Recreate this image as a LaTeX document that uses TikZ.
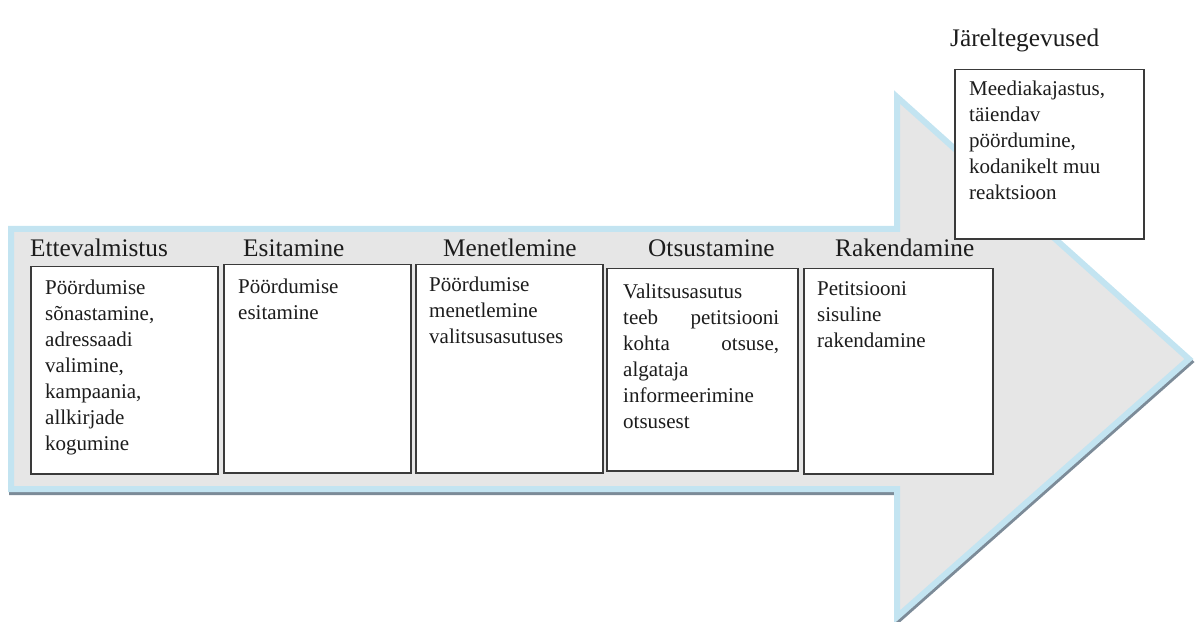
\documentclass[tikz,border=0pt]{standalone}
\usepackage{fontspec}
\setmainfont{Liberation Serif}
\definecolor{arrowfill}{HTML}{E6E6E6}
\definecolor{arrowedge}{HTML}{C3E4F1}
\definecolor{arrowshadow}{HTML}{7C8B98}
\definecolor{boxline}{HTML}{3A3A3A}
\definecolor{txt}{HTML}{1C1C1C}
\tikzset{
  headtext/.style={font=\fontsize{25.3bp}{30bp}\selectfont, anchor=base west, inner sep=0pt, text=txt},
  bodytext/.style={font=\fontsize{21bp}{26bp}\selectfont, anchor=north west, inner sep=0pt, align=left, text=txt},
  pbox/.style={draw=boxline, line width=1.5bp, fill=white, anchor=north west, inner sep=0pt},
}
\begin{document}
\begin{tikzpicture}[x=1bp,y=-1bp]
\useasboundingbox (0,0) rectangle (1198,622);
% arrow shadow
\fill[arrowshadow, draw=arrowshadow, line width=6bp, line join=miter, shift={(1,3)}]
  (11,229) -- (897,229) -- (897,97) -- (1189,359) -- (897,617) -- (897,489) -- (11,489) -- cycle;
% arrow body
\filldraw[fill=arrowfill, draw=arrowedge, line width=6bp, line join=miter]
  (11,229) -- (897,229) -- (897,97) -- (1189,359) -- (897,617) -- (897,489) -- (11,489) -- cycle;

% headings
\node[headtext] (h1) at (30,257) {Ettevalmistus};
\node[headtext] (h2) at (243,257) {Esitamine};
\node[headtext] (h3) at (443,257) {Menetlemine};
\node[headtext] (h4) at (648,257) {Otsustamine};
\node[headtext] (h5) at (835,257) {Rakendamine};
\node[headtext] (h6) at (950,47) {Järeltegevused};

% boxes
\node[pbox, minimum width=187bp, minimum height=207bp] (b1) at (30,266) {};
\node[pbox, minimum width=187bp, minimum height=208bp] (b2) at (223,264) {};
\node[pbox, minimum width=187bp, minimum height=208bp] (b3) at (415,264) {};
\node[pbox, minimum width=191bp, minimum height=202bp] (b4) at (606,268) {};
\node[pbox, minimum width=189bp, minimum height=205bp] (b5) at (803,268) {};
\node[pbox, minimum width=189bp, minimum height=169bp] (b6) at (954,69) {};

% box texts
\node[bodytext] (t1) at (45,280) {Pöördumise\\sõnastamine,\\adressaadi\\valimine,\\kampaania,\\allkirjade\\kogumine};
\node[bodytext] (t2) at (238,279) {Pöördumise\\esitamine};
\node[bodytext] (t3) at (429,277) {Pöördumise\\menetlemine\\valitsusasutuses};
\node[bodytext] (t4) at (623,284) {Valitsusasutus\\\makebox[156bp][s]{teeb petitsiooni}\\\makebox[156bp][s]{kohta otsuse,}\\algataja\\informeerimine\\otsusest};
\node[bodytext] (t5) at (817,281) {Petitsiooni\\sisuline\\rakendamine};
\node[bodytext] (t6) at (969,81) {Meediakajastus,\\täiendav\\pöördumine,\\kodanikelt muu\\reaktsioon};
\end{tikzpicture}
\end{document}
